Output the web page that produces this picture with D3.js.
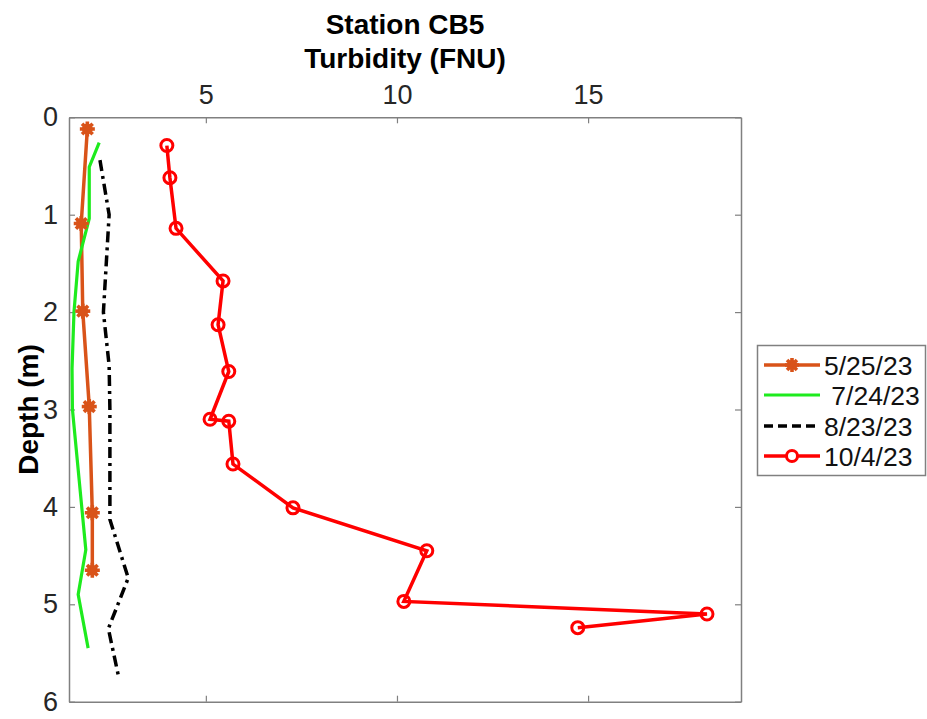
<!DOCTYPE html>
<html>
<head>
<meta charset="utf-8">
<script src="https://cdn.jsdelivr.net/npm/d3@7"></script>
<style>
  html, body { margin: 0; padding: 0; background: #fff; }
  svg { display: block; font-family: "Liberation Sans", Arial, Helvetica, sans-serif; }
</style>
</head>
<body>
<svg id="chart" width="927" height="719"></svg>
<script>
// ---- data (turbidity FNU vs depth m) ----
const may25Turb  = [1.90, 1.74, 1.78, 1.95, 2.03, 2.03];
const may25Depth = [0.12, 1.09, 1.99, 2.97, 4.06, 4.65];

const jul24Turb  = [2.21, 1.95, 1.95, 1.66, 1.55, 1.50, 1.51, 1.86, 1.66, 1.92];
const jul24Depth = [0.26, 0.51, 1.04, 1.48, 2.00, 2.58, 3.00, 4.44, 4.90, 5.45];

const aug23Turb  = [2.23, 2.47, 2.32, 2.47, 2.49, 2.49, 2.97, 2.45, 2.71];
const aug23Depth = [0.44, 1.00, 2.00, 2.55, 3.00, 4.13, 4.73, 5.25, 5.73];

const oct4Turb  = [3.98, 4.06, 4.22, 5.45, 5.32, 5.60, 5.11, 5.60, 5.71, 7.28, 10.78, 10.18, 18.11, 14.73];
const oct4Depth = [0.29, 0.62, 1.14, 1.68, 2.13, 2.61, 3.10, 3.12, 3.56, 4.01, 4.45, 4.97, 5.10, 5.24];

const xTicks = [5, 10, 15];
const yTicks = [0, 1, 2, 3, 4, 5, 6];
const seriesNames = ["5/25/23", " 7/24/23", "8/23/23", "10/4/23"];
const titleLines = ["Station CB5", "Turbidity (FNU)"];
const yLabel = "Depth (m)";

// ---- layout ----
const svg = d3.select("#chart");
const L = 69, R = 741, T = 117.3, B = 701.7;
const x = d3.scaleLinear().domain([1.42, 19.0]).range([L, R]);
const y = d3.scaleLinear().domain([0, 6]).range([T, B]);

const axisColor = "#808080";
const textColor = "#262626";

// axes
const gTop = svg.append("g").attr("transform", `translate(0,${T})`)
  .call(d3.axisTop(x).tickValues(xTicks).tickSizeInner(-6).tickSizeOuter(0).tickPadding(13).tickFormat(d3.format("d")));
const gBot = svg.append("g").attr("transform", `translate(0,${B})`)
  .call(d3.axisBottom(x).tickValues(xTicks).tickSizeInner(-6).tickSizeOuter(0).tickFormat(""));
const gLeft = svg.append("g").attr("transform", `translate(${L},0)`)
  .call(d3.axisLeft(y).tickValues(yTicks).tickSizeInner(-6).tickSizeOuter(0).tickPadding(11).tickFormat(d3.format("d")));
const gRight = svg.append("g").attr("transform", `translate(${R},0)`)
  .call(d3.axisRight(y).tickValues(yTicks).tickSizeInner(-6).tickSizeOuter(0).tickFormat(""));

[gTop, gBot, gLeft, gRight].forEach(g => {
  g.select(".domain").attr("stroke", axisColor).attr("stroke-width", 1.5);
  g.selectAll(".tick line").attr("stroke", axisColor).attr("stroke-width", 1.2);
  g.selectAll(".tick text").attr("fill", textColor).style("font-size", "27px")
    .style("font-family", "'Liberation Sans', Arial, sans-serif");
});

// titles
svg.append("text").attr("x", (L + R) / 2).attr("y", 34).attr("text-anchor", "middle")
  .style("font-size", "28px").style("font-weight", "bold").attr("fill", "#000").text(titleLines[0]);
svg.append("text").attr("x", (L + R) / 2).attr("y", 68).attr("text-anchor", "middle")
  .style("font-size", "28px").style("font-weight", "bold").attr("fill", "#000").text(titleLines[1]);
svg.append("text").attr("transform", `translate(38,${(T + B) / 2}) rotate(-90)`)
  .attr("text-anchor", "middle").style("font-size", "28px").style("font-weight", "bold")
  .attr("fill", "#000").text(yLabel);

// lines
const line = d3.line().x(d => x(d[0])).y(d => y(d[1]));
const zip = (a, b) => a.map((v, i) => [v, b[i]]);
svg.append("clipPath").attr("id", "clip").append("rect")
  .attr("x", L).attr("y", T).attr("width", R - L).attr("height", B - T);
const plot = svg.append("g").attr("clip-path", "url(#clip)");

const orange = "#D95319", green = "#1EEB1E", red = "#FF0000";

const dMay = zip(may25Turb, may25Depth);
const dJul = zip(jul24Turb, jul24Depth);
const dAug = zip(aug23Turb, aug23Depth);
const dOct = zip(oct4Turb, oct4Depth);

plot.append("path").attr("d", line(dMay)).attr("fill", "none").attr("stroke", orange).attr("stroke-width", 3.5);
plot.append("path").attr("d", line(dJul)).attr("fill", "none").attr("stroke", green).attr("stroke-width", 3.2);
plot.append("path").attr("d", line(dAug)).attr("fill", "none").attr("stroke", "#000").attr("stroke-width", 3.5)
  .attr("stroke-dasharray", "11,5,3,5");
plot.append("path").attr("d", line(dOct)).attr("fill", "none").attr("stroke", red).attr("stroke-width", 3.5);

// markers
function asterisk(g, cx, cy, r, color) {
  const a = g.append("g").attr("transform", `translate(${cx},${cy})`);
  a.append("circle").attr("r", r * 0.72).attr("fill", color);
  for (let k = 0; k < 4; k++) {
    const ang = k * Math.PI / 4;
    a.append("line").attr("x1", -r * Math.cos(ang)).attr("y1", -r * Math.sin(ang))
      .attr("x2", r * Math.cos(ang)).attr("y2", r * Math.sin(ang))
      .attr("stroke", color).attr("stroke-width", 3.6);
  }
}
dMay.forEach(d => asterisk(plot, x(d[0]), y(d[1]), 7.5, orange));
plot.selectAll(".octm").data(dOct).enter().append("circle")
  .attr("cx", d => x(d[0])).attr("cy", d => y(d[1])).attr("r", 6)
  .attr("fill", "none").attr("stroke", red).attr("stroke-width", 3);

// legend
const lg = svg.append("g");
lg.append("rect").attr("x", 757.5).attr("y", 345.5).attr("width", 168).attr("height", 130)
  .attr("fill", "#fff").attr("stroke", axisColor).attr("stroke-width", 1.5);
const ly = [365, 395, 426, 456];
const lx1 = 764, lx2 = 820, tx = 824;
// 5/25/23
lg.append("line").attr("x1", lx1).attr("x2", lx2).attr("y1", ly[0]).attr("y2", ly[0]).attr("stroke", orange).attr("stroke-width", 3.5);
asterisk(lg, (lx1 + lx2) / 2, ly[0], 7, orange);
// 7/24/23
lg.append("line").attr("x1", lx1).attr("x2", lx2).attr("y1", ly[1]).attr("y2", ly[1]).attr("stroke", green).attr("stroke-width", 3.2);
// 8/23/23
lg.append("line").attr("x1", lx1).attr("x2", lx2).attr("y1", ly[2]).attr("y2", ly[2]).attr("stroke", "#000").attr("stroke-width", 3.5)
  .attr("stroke-dasharray", "9,5");
// 10/4/23
lg.append("line").attr("x1", lx1).attr("x2", lx2).attr("y1", ly[3]).attr("y2", ly[3]).attr("stroke", red).attr("stroke-width", 3.5);
lg.append("circle").attr("cx", (lx1 + lx2) / 2).attr("cy", ly[3]).attr("r", 5.5).attr("fill", "#fff").attr("stroke", red).attr("stroke-width", 3);

seriesNames.forEach((n, i) => {
  lg.append("text").attr("x", tx).attr("y", ly[i]).attr("dy", "0.36em")
    .style("font-size", "26.5px").style("white-space", "pre").attr("xml:space", "preserve")
    .attr("fill", "#111").text(n);
});
</script>
</body>
</html>
